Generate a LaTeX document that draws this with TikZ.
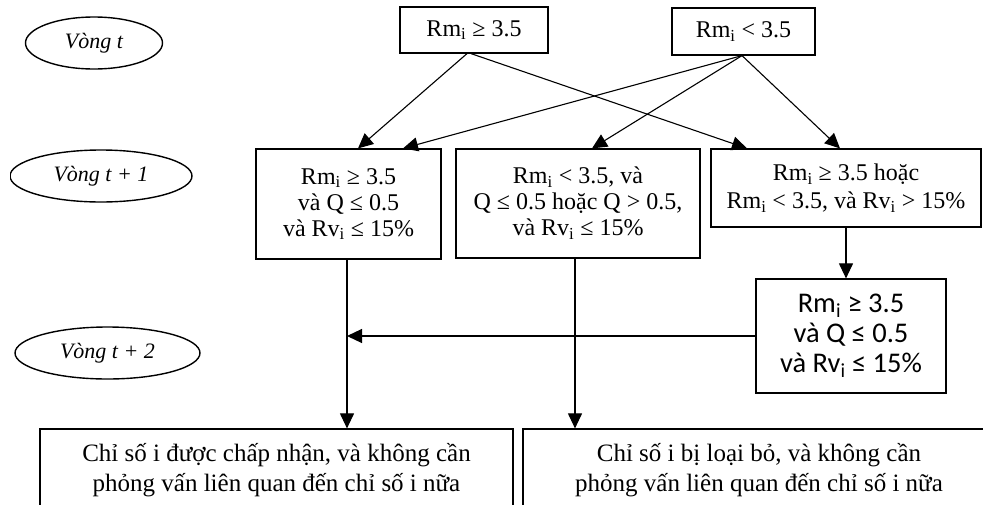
\documentclass[tikz,border=0pt]{standalone}
\usepackage{fontspec}
\setmainfont{Liberation Serif}
\newfontfamily\sansf{Carlito}
\usetikzlibrary{arrows.meta,shapes.geometric}
\newcommand\sbi{\textsubscript{i}}
\tikzset{
  box/.style={draw, line width=1.2pt, inner sep=0pt, align=center, font=\fontsize{24}{26}\selectfont},
  oval/.style={draw, ellipse, line width=1.4pt, inner sep=0pt, font=\fontsize{22}{26}\selectfont\itshape},
  arr/.style={line width=1.1pt, -{Triangle[length=15pt,width=14pt]}},
  ln/.style={line width=1.1pt}
}
\begin{document}
\begin{tikzpicture}[x=1pt,y=-1pt]
\useasboundingbox (0,0) rectangle (983,504);
% ellipses
\node[oval, minimum width=137pt, minimum height=52pt] (e1) at (94,43) {Vòng t};
\begin{scope}
\clip (10,100) rectangle (300,260);
\node[oval, minimum width=182pt, minimum height=52pt] (e2) at (101,176) {Vòng t + 1};
\end{scope}
\node[oval, minimum width=185pt, minimum height=52pt] (e3) at (107.5,353) {Vòng t + 2};
% boxes
\node[box, minimum width=148pt, minimum height=46pt] (t1) at (474,30) {Rm\sbi{} ≥ 3.5};
\node[box, minimum width=143pt, minimum height=47pt] (t2) at (743.5,31.5) {Rm\sbi{} < 3.5};
\node[box, minimum width=185pt, minimum height=110pt] (A) at (348.5,204) {Rm\sbi{} ≥ 3.5\\và Q ≤ 0.5\\và Rv\sbi{} ≤ 15\%};
\node[box, minimum width=244pt, minimum height=109pt] (B) at (578,203.5) {Rm\sbi{} < 3.5, và\\Q ≤ 0.5 hoặc Q > 0.5,\\và Rv\sbi{} ≤ 15\%};
\node[box, minimum width=270pt, minimum height=78pt, font=\fontsize{24}{28}\selectfont] (C) at (846,188) {Rm\sbi{} ≥ 3.5 hoặc\\Rm\sbi{} < 3.5, và Rv\sbi{} > 15\%};
\node[box, minimum width=190pt, minimum height=114pt, font=\sansf\fontsize{28.5}{30}\selectfont] (D) at (851,336) {Rm\sbi{} ≥ 3.5\\và Q ≤ 0.5\\và Rv\sbi{} ≤ 15\%};
\node[box, minimum width=473pt, minimum height=83pt, font=\fontsize{25}{30}\selectfont] (L) at (276.5,470.5) {Chỉ số i được chấp nhận, và không cần\\phỏng vấn liên quan đến chỉ số i nữa};
\node[box, minimum width=472pt, minimum height=83pt, font=\fontsize{25}{30}\selectfont] (R) at (759,470.5) {Chỉ số i bị loại bỏ, và không cần\\phỏng vấn liên quan đến chỉ số i nữa};
% arrows from top row
\draw[arr] ([xshift=-7pt]t1.south) -- ([xshift=9.5pt]A.north);
\draw[arr] ([xshift=-3pt]t1.south) -- ([xshift=-99pt]C.north);
\draw[arr] ([xshift=-1.5pt]t2.south) -- ([xshift=54.5pt]A.north);
\draw[arr] ([xshift=-1.5pt]t2.south) -- ([xshift=14pt]B.north);
\draw[arr] ([xshift=-1.5pt]t2.south) -- ([xshift=-6pt]C.north);
% verticals
\draw[arr] ([xshift=-1.5pt]A.south) -- ([xshift=-1.5pt]A.south |- L.north);
\draw[arr] ([xshift=-3pt]B.south) -- ([xshift=-3pt]B.south |- R.north);
\draw[arr] (C.south) -- (C.south |- D.north);
\coordinate (j) at ([xshift=-1.5pt]A.south |- D.west);
\draw[arr] (D.west) -- (j);
\end{tikzpicture}
\end{document}
